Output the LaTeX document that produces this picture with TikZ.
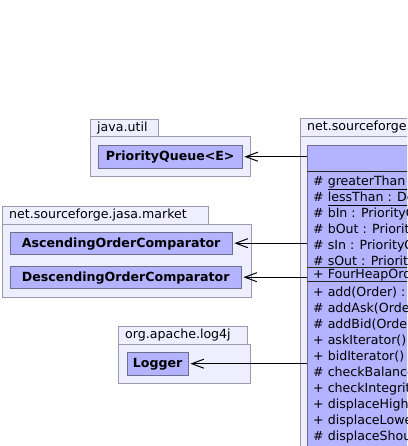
\documentclass[tikz,border=0pt]{standalone}
\usepackage{fontspec}
\setmainfont{DejaVu Sans}
\usetikzlibrary{arrows.meta,positioning}
\definecolor{pkgfill}{HTML}{EEEEFF}
\definecolor{pkgline}{HTML}{9A9AB0}
\definecolor{clsfill}{HTML}{B3B3FF}
\definecolor{clsline}{HTML}{6E6E8E}
\newcommand{\umlfont}{\fontsize{12.6}{15}\selectfont}

\begin{document}
\begin{tikzpicture}[x=1pt,y=-1pt,
  pkgtab/.style={draw=pkgline,fill=pkgfill,anchor=north west,inner xsep=7pt,inner ysep=0pt,align=left,text height=9.5pt,text depth=2.5pt,font=\umlfont},
  pkgbody/.style={draw=pkgline,fill=pkgfill,anchor=north west,inner sep=0pt},
  cls/.style={draw=clsline,fill=clsfill,anchor=north west,inner sep=0pt,text height=10pt,text depth=2pt,font=\umlfont\bfseries},
  member/.style={anchor=base west,inner sep=0pt,font=\umlfont},
  sep/.style={draw=black!85},
  ar/.style={-{Straight Barb[length=12pt,width=9pt]},draw=black,line width=1pt,shorten >=2pt}]

\useasboundingbox (0,0) rectangle (407,446);
\fill[white] (0,0) rectangle (407,446);
\clip (0,0) rectangle (407,446);

% packages
\node[pkgbody,minimum width=160pt,minimum height=40pt]  (utilpkg)  at (90,136)  {};
\node[pkgtab,text width=54pt,minimum height=17pt]       (utiltab)  at (90,119)  {java.util};
\node[pkgbody,minimum width=249pt,minimum height=73pt]  (mktpkg)   at (2,224)   {};
\node[pkgtab,text width=192pt,minimum height=18pt]      (mkttab)   at (2,206)   {net.sourceforge.jasa.market};
\node[pkgbody,minimum width=132pt,minimum height=39pt]  (logpkg)   at (118,344) {};
\node[pkgtab,text width=115pt,minimum height=18pt]      (logtab)   at (118,326) {org.apache.log4j};
\node[pkgbody,minimum width=200pt,minimum height=400pt] (bookpkg)  at (300,136) {};
\node[pkgtab,text width=200pt,minimum height=18pt]      (booktab)  at (300,118) {net.sourceforge.jasa.market.book};

% classes
\node[cls,minimum width=144pt,minimum height=23pt] (pq)   at (98,145)  {PriorityQueue<E>};
\node[cls,minimum width=222pt,minimum height=22pt] (asc)  at (10,232)  {AscendingOrderComparator};
\node[cls,minimum width=231pt,minimum height=22pt] (desc) at (10,266)  {DescendingOrderComparator};
\node[cls,minimum width=61pt,minimum height=23pt]  (log)  at (127,352) {Logger};
\node[cls,minimum width=200pt,minimum height=400pt] (fh)  at (307,145) {};

\draw[sep] (fh.west |- 0,171) -- (fh.east |- 0,171);
\draw[sep] (fh.west |- 0,267) -- (fh.east |- 0,267);
\draw[sep] (fh.west |- 0,281) -- (fh.east |- 0,281);

% members
\node[member] (f1)  at (313,185.5) {\# \underline{greaterThan : AscendingOrderComparator}};
\node[member] (f2)  at (313,201.5) {\# \underline{lessThan : DescendingOrderComparator}};
\node[member] (f3)  at (313,217.5) {\# bIn : PriorityQueue<Order>};
\node[member] (f4)  at (313,233.5) {\# bOut : PriorityQueue<Order>};
\node[member] (f5)  at (313,249.5) {\# sIn : PriorityQueue<Order>};
\node[member] (f6)  at (313,265.5) {\# sOut : PriorityQueue<Order>};
\node[member] (c1)  at (313,278.5) {+ FourHeapOrderBook()};
\node[member] (m1)  at (313,296.5) {+ add(Order) : void};
\node[member] (m2)  at (313,312.5) {\# addAsk(Order) : void};
\node[member] (m3)  at (313,328.5) {\# addBid(Order) : void};
\node[member] (m4)  at (313,344.5) {+ askIterator() : Iterator<Order>};
\node[member] (m5)  at (313,360.5) {+ bidIterator() : Iterator<Order>};
\node[member] (m6)  at (313,376.5) {\# checkBalanced() : void};
\node[member] (m7)  at (313,392.5) {+ checkIntegrity() : void};
\node[member] (m8)  at (313,408.5) {+ displaceHighestAsk() : Order};
\node[member] (m9)  at (313,424.5) {+ displaceLowestBid() : Order};
\node[member] (m10) at (313,440.5) {\# displaceShout(Order) : Order};

% associations
\draw[ar] (fh.west |- pq.east) -- (pq.east);
\draw[ar] (fh.west |- asc.east) -- (asc.east);
\draw[ar] (fh.west |- desc.east) -- (desc.east);
\draw[ar] (fh.west |- log.east) -- (log.east);
\end{tikzpicture}
\end{document}
